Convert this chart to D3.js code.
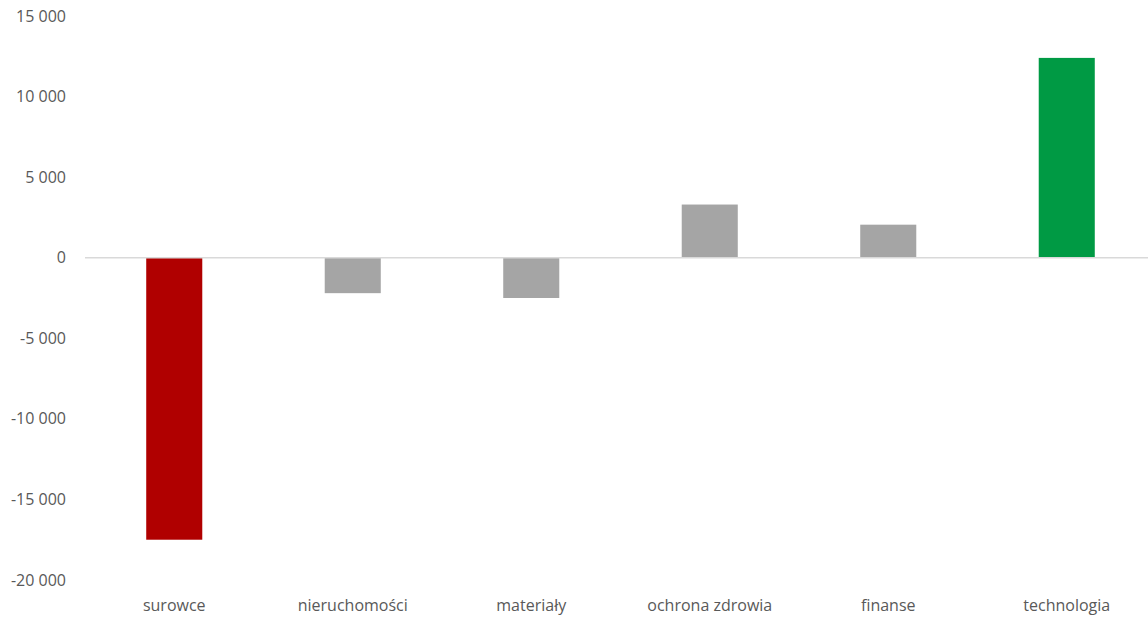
<!DOCTYPE html>
<html>
<head>
<meta charset="utf-8">
<script src="https://cdn.jsdelivr.net/npm/d3@7"></script>
<style>
  html, body { margin: 0; padding: 0; background: #fff; }
  svg { display: block; }
  text { font-family: "Open Sans", "Noto Sans", sans-serif; fill: #595959; }
</style>
</head>
<body>
<svg id="chart" width="1148" height="617"></svg>
<script>
// Sector flows
const categories = ["surowce", "nieruchomości", "materiały", "ochrona zdrowia", "finanse", "technologia"];
const values = [-17500, -2200, -2500, 3300, 2050, 12400];
const barColors = ["#b00000", "#a5a5a5", "#a5a5a5", "#a5a5a5", "#a5a5a5", "#009a44"];
const yTicks = [-20000, -15000, -10000, -5000, 0, 5000, 10000, 15000];

const svg = d3.select("#chart");
const plotLeft = 85, plotRight = 1156, plotTop = 16, plotBottom = 580;

const x = d3.scaleBand()
  .domain(categories)
  .range([plotLeft, plotRight])
  .paddingInner(0.686)
  .paddingOuter(0.343);

const y = d3.scaleLinear()
  .domain([-20000, 15000])
  .range([plotBottom, plotTop]);

const fmt = v => {
  const s = d3.format(",")(Math.abs(v)).replace(/,/g, " ");
  return (v < 0 ? "-" : "") + s;
};

// Y axis labels (no axis line, no gridlines)
const yAxis = d3.axisLeft(y).tickValues(yTicks).tickFormat(fmt).tickSize(0).tickPadding(0);
const gy = svg.append("g").attr("transform", "translate(66,0)").call(yAxis);
gy.select(".domain").remove();
gy.selectAll("text").attr("font-size", 16).style("font-family", "\"Open Sans\", sans-serif").attr("fill", "#595959");

// Bars
svg.append("g").selectAll("rect")
  .data(values)
  .join("rect")
  .attr("x", (d, i) => x(categories[i]))
  .attr("width", x.bandwidth())
  .attr("y", d => y(Math.max(0, d)))
  .attr("height", d => Math.abs(y(d) - y(0)))
  .attr("fill", (d, i) => barColors[i]);

// Zero baseline
svg.append("line")
  .attr("x1", plotLeft).attr("x2", 1148)
  .attr("y1", y(0)).attr("y2", y(0))
  .attr("stroke", "#d9d9d9").attr("stroke-width", 1.5);

// Category labels
const xAxis = d3.axisBottom(x).tickSize(0).tickPadding(0);
const gx = svg.append("g").attr("transform", "translate(0,600)").call(xAxis);
gx.select(".domain").remove();
gx.selectAll("text").attr("font-size", 16).style("font-family", "\"Open Sans\", sans-serif").attr("fill", "#595959");
</script>
</body>
</html>
